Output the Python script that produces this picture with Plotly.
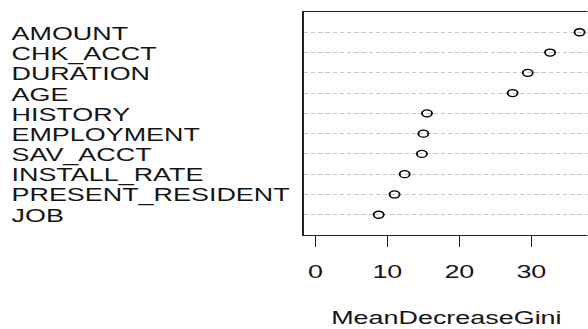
import plotly.graph_objects as go

# Variable importance (random forest), top 10 by mean decrease in Gini
variables = ["AMOUNT", "CHK_ACCT", "DURATION", "AGE", "HISTORY",
             "EMPLOYMENT", "SAV_ACCT", "INSTALL_RATE", "PRESENT_RESIDENT", "JOB"]
gini = [36.7, 32.6, 29.5, 27.4, 15.5, 15.0, 14.8, 12.4, 11.0, 8.8]
x_ticks = [0, 10, 20, 30]
x_title = "MeanDecreaseGini"

# dotchart ordering: first variable on top
n = len(variables)
rows = [n - i for i in range(n)]

W, H = 408, 329          # drawn size; page stretches it horizontally
ML, MR, MT, MB = 211, 0, 12, 94
PW = W - ML - MR
PH = H - MT - MB
FONT = "Liberation Sans, Arial, sans-serif"
FS = 18.7
INK = "#151515"

fig = go.Figure()
fig.add_trace(go.Scatter(
    x=gini, y=rows, mode="markers",
    marker=dict(symbol="circle-open", size=7, color="black",
                line=dict(color="black", width=1.3)),
    hoverinfo="skip", showlegend=False,
))

annotations = []
for lab, r in zip(variables, rows):
    annotations.append(dict(
        text=lab, xref="paper", yref="y", x=(5.6 - ML) / PW, y=r,
        xanchor="left", yanchor="middle", yshift=-1, showarrow=False,
        font=dict(family=FONT, size=FS, color=INK),
    ))
annotations.append(dict(
    text=x_title, xref="paper", yref="paper", x=0.502, y=-(317 - (MT + PH)) / PH,
    xanchor="center", yanchor="middle", showarrow=False,
    font=dict(family=FONT, size=FS, color=INK),
))

fig.update_layout(
    width=W, height=H,
    margin=dict(l=ML, r=MR, t=MT, b=MB, pad=0),
    paper_bgcolor="white", plot_bgcolor="white",
    annotations=annotations,
    xaxis=dict(
        range=[-1.6, 37.8], tickvals=x_ticks, ticktext=[str(v) for v in x_ticks],
        showgrid=False, zeroline=False,
        showline=True, mirror=True, linecolor="#222", linewidth=1,
        ticks="outside", ticklen=11, tickwidth=1, tickcolor="#222",
        ticklabelstandoff=9,
        tickfont=dict(family=FONT, size=FS, color=INK),
        fixedrange=True,
    ),
    yaxis=dict(
        range=[0, n + 1], tickvals=rows, showticklabels=False,
        showgrid=True, gridcolor="#c8c8c8", gridwidth=1, griddash="3px,2px",
        zeroline=False, showline=True, mirror=False, linecolor="#222", linewidth=1,
        ticks="", fixedrange=True,
    ),
)

stretch = (
    "var d=document.getElementById('{plot_id}');"
    "document.body.style.margin='0';document.body.style.overflow='hidden';"
    "d.style.transformOrigin='0 0';d.style.transform='scale(1.44,1)';"
)
fig.write_html("out.html", post_script=stretch, config={"displayModeBar": False})
